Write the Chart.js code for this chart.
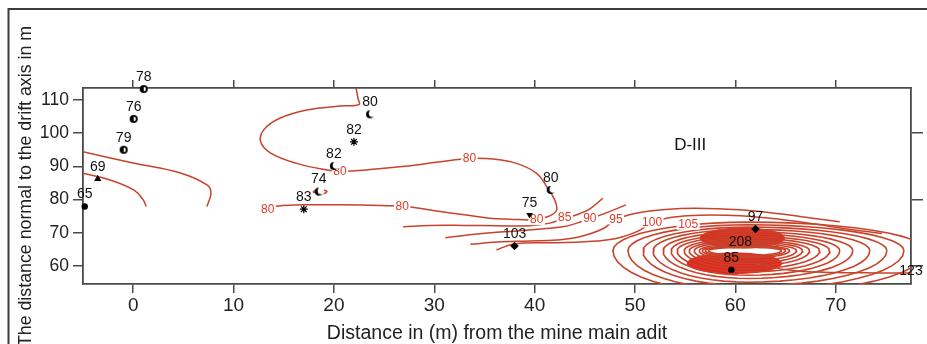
<!DOCTYPE html>
<html>
<head>
<meta charset="utf-8">
<script src="https://cdn.jsdelivr.net/npm/chart.js@4.4.1/dist/chart.umd.min.js"></script>
<style>
  html, body { margin: 0; padding: 0; background: #ffffff; }
  canvas { display: block; }
</style>
</head>
<body>
<canvas id="map" width="927" height="344"></canvas>
<script>
// ---- Sampling stations: position (m), measured value, marker symbol ----
const stationX      = [1.05, 0.05, -0.95, -3.53, -4.83, 23.6, 22.0, 20.0, 18.5, 17.0, 41.6, 39.5, 38.0, 62.0, 60.5, 59.6, 77.5];
const stationY      = [113.3, 104.3, 95.0, 86.2, 77.9, 105.7, 97.4, 90.1, 82.4, 77.1, 82.9, 75.4, 66.0, 71.1, 63.6, 58.8, 54.9];
const stationValue  = [78, 76, 79, 69, 65, 80, 82, 82, 74, 83, 80, 75, 103, 97, 208, 85, 123];
const stationSymbol = ['half', 'half', 'half', 'tri', 'dot', 'moon', 'sun', 'moon', 'moon', 'sun', 'moon', 'arrow', 'diamond', 'diamond', 'none', 'dot', 'none'];

// ---- Axes ----
const xRange = [-5, 77.5];
const yRange = [54.55, 113.62];
const xTickValues = [0, 10, 20, 30, 40, 50, 60, 70];
const yTickValues = [60, 70, 80, 90, 100, 110];
const yRightTickValues = [60, 80, 100];
const xTitle = 'Distance in (m) from the mine main adit';
const yTitle = 'The distance normal to the drift axis in m';
const zoneName = 'D-III';
const zoneAt = [55.5, 96.3];

// ---- Iso-lines, traced as [x, y] vertices ----
const isoWestOuter = [[-5, 94.4], [0, 91.0], [4.7, 88.0], [7.35, 84.4], [7.75, 82.0], [7.35, 77.9]];
const isoWestInner = [[-5, 87.9], [-2.3, 85.9], [0.05, 82.9], [1.0, 79.9], [1.3, 77.9]];
const iso80 = [[22.2, 113.7], [22.4, 110.5], [22.5, 108.6], [20.6, 108.2], [17.3, 107.0], [14.6, 104.5],
  [13.0, 101.0], [12.7, 97.4], [13.7, 94.0], [16.3, 90.9], [19.3, 88.9], [20.6, 88.5], [23.9, 89.1],
  [27.3, 90.1], [30.6, 91.4], [33.5, 92.4], [35.9, 92.2], [38.2, 90.9], [40.2, 87.9], [41.2, 83.9],
  [42.0, 79.9], [42.2, 76.9], [41.7, 75.4], [41.0, 74.6], [39.9, 73.9], [37.5, 74.1], [35.5, 74.4],
  [33.0, 75.4], [30.6, 76.4], [27.2, 77.9], [24.6, 78.2], [20.6, 78.4], [17.0, 78.4], [14.3, 78.0], [13.3, 77.4]];
const iso80Pocket = [[17.9, 82.3], [18.2, 82.8], [18.8, 82.9], [19.3, 82.5], [19.1, 81.9], [18.5, 81.8], [17.9, 82.3]];
const iso85 = [[26.9, 71.8], [29.6, 72.2], [33.0, 72.2], [36.2, 72.1], [39.5, 72.1], [41.5, 72.9], [43.0, 74.4],
  [44.2, 75.4], [45.5, 77.2], [46.8, 80.4]];
const iso90 = [[31.1, 68.5], [34.5, 69.7], [38.9, 70.7], [42.8, 71.8], [44.2, 72.9], [45.5, 74.3], [46.8, 75.6], [49.1, 78.4]];
const iso95 = [[33.6, 66.5], [36.2, 67.2], [39.5, 67.5], [42.2, 67.8], [44.5, 68.8], [46.8, 71.2], [48.1, 74.0],
  [50.1, 75.9], [53.0, 77.0], [56.1, 77.4], [60.4, 76.9], [64.4, 75.7], [67.7, 74.4], [70.4, 73.3]];
const iso100 = [[36.2, 64.8], [37.9, 66.6], [41.8, 67.0], [45.0, 67.3], [48.0, 68.2], [50.3, 70.5], [51.7, 73.1],
  [53.5, 74.6], [56.5, 75.3], [60.5, 75.1], [64.5, 74.0], [68.0, 72.6], [71.0, 71.2], [74.6, 69.8]];
const isoEast = [[62.0, 60.6], [65.7, 58.6], [70.0, 58.0], [74.0, 57.9], [77.5, 57.9]];

// ---- Closed iso-lines round the anomaly (extents in m) ----
const ringCentre = [61.3, 64.6];
const ringLeft  = [57.3, 57.0, 56.7, 56.4, 55.9, 55.4, 54.9, 54.2, 53.6, 52.8, 51.8, 50.8, 49.3, 47.8];
const ringRight = [64.6, 65.0, 65.4, 66.1, 66.7, 67.4, 68.4, 69.4, 70.4, 71.7, 73.4, 75.1, 76.8, 79.0];
const ringUp    = [1.0, 1.3, 1.6, 2.1, 2.6, 3.1, 3.7, 4.3, 5.0, 5.7, 6.4, 7.1, 7.8, 8.6];
const ringDown  = [1.4, 1.8, 2.2, 3.0, 3.8, 4.6, 5.5, 6.4, 7.4, 8.4, 9.5, 10.6, 11.8, 13.0];

// ---- Saturated cores of the anomaly ----
const coreCentreX = [60.7, 59.9];
const coreCentreY = [68.4, 60.8];
const coreLeft    = [56.5, 55.2];
const coreRight   = [64.9, 64.6];
const coreHalfH   = [3.0, 3.1];

// ---- Iso-line level labels ----
const levelText = ['80', '80', '80', '80', '80', '85', '90', '95', '100', '105'];
const levelX    = [20.6, 33.5, 26.8, 13.4, 40.2, 43.0, 45.5, 48.1, 51.7, 55.3];
const levelY    = [88.4, 92.4, 78.0, 76.9, 73.8, 74.4, 74.3, 74.0, 73.1, 72.4];

const FONT = '"Liberation Sans", Arial, sans-serif';
const ISO_COLOR = '#c8432b';
const CORE_COLOR = '#e6261c';
const AXIS_COLOR = '#4a4a4a';

function toPoints(list) { return list.map(p => ({ x: p[0], y: p[1] })); }

// Closed loop through the four extents of a contour (smooth quarter arcs)
function loop(cx, cy, left, right, up, down) {
  const pts = [];
  const n = 48;
  for (let k = 0; k <= n; k++) {
    const t = 2 * Math.PI * k / n;
    const c = Math.cos(t), s = Math.sin(t);
    pts.push({
      x: cx + c * (c < 0 ? cx - left : right - cx),
      y: cy + s * (s > 0 ? up : down)
    });
  }
  return pts;
}

// Marker glyphs
function glyph(kind) {
  const cv = document.createElement('canvas');
  cv.width = 10; cv.height = 10;
  const g = cv.getContext('2d');
  g.fillStyle = '#000';
  g.beginPath(); g.arc(5, 5, 4, 0, 2 * Math.PI); g.fill();
  g.fillStyle = '#fff';
  if (kind === 'half') {
    g.beginPath(); g.arc(5, 5, 2.2, -Math.PI / 2, Math.PI / 2); g.fill();
  } else {
    g.beginPath(); g.arc(7.4, 4.2, 3.6, 0, 2 * Math.PI); g.fill();
  }
  return cv;
}
const halfGlyph = glyph('half');
const moonGlyph = glyph('moon');

const symbolStyle = {
  half:    { style: halfGlyph, r: 4, rot: 0 },
  moon:    { style: moonGlyph, r: 4, rot: 0 },
  sun:     { style: 'star', r: 4, rot: 0 },
  dot:     { style: 'circle', r: 2.6, rot: 0 },
  tri:     { style: 'triangle', r: 3, rot: 0 },
  arrow:   { style: 'triangle', r: 2.6, rot: 180 },
  diamond: { style: 'rectRot', r: 3.4, rot: 0 },
  none:    { style: 'circle', r: 0, rot: 0 }
};

const datasets = [];

datasets.push({
  label: 'stations',
  data: stationX.map((x, i) => ({ x, y: stationY[i] })),
  showLine: false,
  pointStyle: stationSymbol.map(s => symbolStyle[s].style),
  pointRadius: stationSymbol.map(s => symbolStyle[s].r),
  pointRotation: stationSymbol.map(s => symbolStyle[s].rot),
  pointBackgroundColor: '#000',
  pointBorderColor: '#000',
  pointBorderWidth: 1.2,
  clip: false,
  order: 0
});

[isoWestOuter, isoWestInner, iso80, iso80Pocket, iso85, iso90, iso95, iso100, isoEast].forEach(line => {
  datasets.push({
    data: toPoints(line),
    showLine: true,
    pointRadius: 0,
    borderColor: ISO_COLOR,
    borderWidth: 1.5,
    tension: 0.4,
    fill: false,
    order: 1
  });
});

ringLeft.forEach((left, i) => {
  datasets.push({
    data: loop(ringCentre[0], ringCentre[1], left, ringRight[i], ringUp[i], ringDown[i]),
    showLine: true,
    pointRadius: 0,
    borderColor: ISO_COLOR,
    borderWidth: 1.6,
    tension: 0,
    fill: false,
    order: 2
  });
});

coreCentreX.forEach((cx, i) => {
  datasets.push({
    data: loop(cx, coreCentreY[i], coreLeft[i], coreRight[i], coreHalfH[i], coreHalfH[i]),
    showLine: true,
    pointRadius: 0,
    borderColor: CORE_COLOR,
    backgroundColor: CORE_COLOR,
    borderWidth: 1,
    tension: 0,
    fill: 'shape',
    order: 3
  });
});

const labelsPlugin = {
  id: 'labels',
  beforeDatasetDraw(chart, args) {
    if (args.index !== 0) return;
    const { ctx, scales: { x, y } } = chart;
    ctx.save();
    ctx.font = '12px ' + FONT;
    ctx.textAlign = 'center';
    ctx.textBaseline = 'middle';
    levelText.forEach((t, i) => {
      const px = x.getPixelForValue(levelX[i]);
      const py = y.getPixelForValue(levelY[i]);
      const w = ctx.measureText(t).width;
      ctx.fillStyle = '#ffffff';
      ctx.fillRect(px - w / 2 - 1.5, py - 5, w + 3, 10);
      ctx.fillStyle = '#e03a22';
      ctx.fillText(t, px, py);
    });
    ctx.restore();
  },
  afterDatasetsDraw(chart) {
    const { ctx, scales: { x, y } } = chart;
    ctx.save();
    ctx.fillStyle = '#111';
    ctx.textAlign = 'center';
    ctx.textBaseline = 'middle';
    ctx.font = '14px ' + FONT;
    stationValue.forEach((v, i) => {
      const px = x.getPixelForValue(stationX[i]);
      const py = y.getPixelForValue(stationY[i]);
      ctx.fillText(String(v), px, py - 12);
    });
    ctx.font = '17px ' + FONT;
    ctx.fillText(zoneName, x.getPixelForValue(zoneAt[0]), y.getPixelForValue(zoneAt[1]));
    ctx.restore();
  },
  afterDraw(chart) {
    const { ctx } = chart;
    ctx.save();
    ctx.strokeStyle = '#3c3c3c';
    ctx.lineWidth = 2;
    ctx.beginPath();
    ctx.moveTo(8.5, 400);
    ctx.lineTo(8.5, 9);
    ctx.lineTo(1000, 9);
    ctx.stroke();
    ctx.restore();
  }
};

function fixedTicks(values) {
  return scale => { scale.ticks = values.map(v => ({ value: v })); };
}

const gridOpts = len => ({ drawOnChartArea: false, drawTicks: true, tickLength: len, color: AXIS_COLOR, lineWidth: 1.5 });
const borderOpts = { display: true, color: AXIS_COLOR, width: 1.8 };

new Chart(document.getElementById('map'), {
  type: 'scatter',
  data: { datasets },
  options: {
    responsive: false,
    animation: false,
    devicePixelRatio: 1,
    layout: { padding: 0, autoPadding: false },
    plugins: { legend: { display: false }, tooltip: { enabled: false } },
    events: [],
    scales: {
      x: {
        type: 'linear', position: 'bottom', min: xRange[0], max: xRange[1],
        afterBuildTicks: fixedTicks(xTickValues),
        afterFit: s => { s.height = 60; },
        grid: gridOpts(9), border: borderOpts,
        ticks: { color: '#222', font: { family: FONT, size: 19 }, padding: 1, maxRotation: 0, autoSkip: false },
        title: { display: true, text: xTitle, color: '#222', font: { family: FONT, size: 19.5, lineHeight: 1.04 }, padding: 0 }
      },
      x2: {
        type: 'linear', position: 'top', min: xRange[0], max: xRange[1],
        afterBuildTicks: fixedTicks(xTickValues),
        afterFit: s => { s.height = 88; },
        grid: gridOpts(8), border: borderOpts,
        ticks: { display: false }
      },
      y: {
        type: 'linear', position: 'left', min: yRange[0], max: yRange[1],
        afterBuildTicks: fixedTicks(yTickValues),
        afterFit: s => { s.width = 83; },
        grid: gridOpts(10), border: borderOpts,
        ticks: { color: '#222', font: { family: FONT, size: 17.5 }, padding: 4, autoSkip: false },
        title: { display: true, text: yTitle, color: '#222', font: { family: FONT, size: 17.8, lineHeight: 1 }, padding: { top: 17.4, bottom: 0 } }
      },
      y2: {
        type: 'linear', position: 'right', min: yRange[0], max: yRange[1],
        afterBuildTicks: fixedTicks(yRightTickValues),
        afterFit: s => { s.width = 16; },
        grid: gridOpts(12), border: borderOpts,
        ticks: { display: false }
      }
    }
  },
  plugins: [labelsPlugin]
});
</script>
</body>
</html>
